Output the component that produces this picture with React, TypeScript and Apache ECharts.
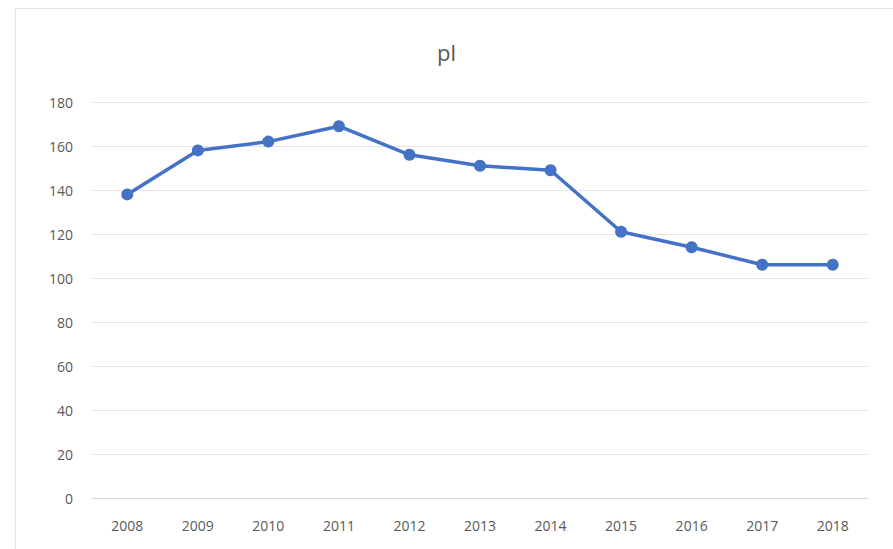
import React, { useEffect, useRef } from "react";
import * as echarts from "echarts";

const years = ["2008", "2009", "2010", "2011", "2012", "2013", "2014", "2015", "2016", "2017", "2018"];
const plValues = [138, 158, 162, 169, 156, 151, 149, 121, 114, 106, 106];
const yTicks = { min: 0, max: 180, interval: 20 };
const titleText = "pl";

export default function App() {
  const ref = useRef<HTMLDivElement>(null);
  useEffect(() => {
    if (!ref.current) return;
    const chart = echarts.init(ref.current, null, { renderer: "svg" });
    chart.setOption({
      animation: false,
      backgroundColor: "#ffffff",
      graphic: [
        {
          type: "rect",
          shape: { x: 15.5, y: 8.5, width: 900, height: 560 },
          style: { fill: "none", stroke: "#e3e3e3", lineWidth: 1 },
          silent: true,
          z: -10,
        },
      ],
      title: {
        text: titleText,
        left: "center",
        top: 36,
        textStyle: {
          fontFamily: "Open Sans",
          fontSize: 22,
          fontWeight: "normal",
          color: "#595959",
        },
      },
      grid: { left: 92, right: 25, top: 102, bottom: 51 },
      xAxis: {
        type: "category",
        data: years,
        boundaryGap: true,
        axisLine: { show: true, lineStyle: { color: "#d9d9d9", width: 1 } },
        axisTick: { show: false },
        axisLabel: {
          color: "#595959",
          fontFamily: "Open Sans",
          fontSize: 14,
          margin: 20,
        },
      },
      yAxis: {
        type: "value",
        min: yTicks.min,
        max: yTicks.max,
        interval: yTicks.interval,
        axisLine: { show: false },
        axisTick: { show: false },
        splitLine: { lineStyle: { color: "#e4e4e4", width: 1 } },
        axisLabel: {
          color: "#595959",
          fontFamily: "Open Sans",
          fontSize: 14,
          margin: 19,
        },
      },
      series: [
        {
          type: "line",
          name: titleText,
          data: plValues,
          symbol: "circle",
          symbolSize: 12,
          lineStyle: { color: "#4472C4", width: 3.5 },
          itemStyle: { color: "#4472C4" },
        },
      ],
    });
    return () => chart.dispose();
  }, []);
  return (
    <div
      ref={ref}
      style={{ position: "fixed", left: 0, top: 0, width: 893, height: 549 }}
    />
  );
}
